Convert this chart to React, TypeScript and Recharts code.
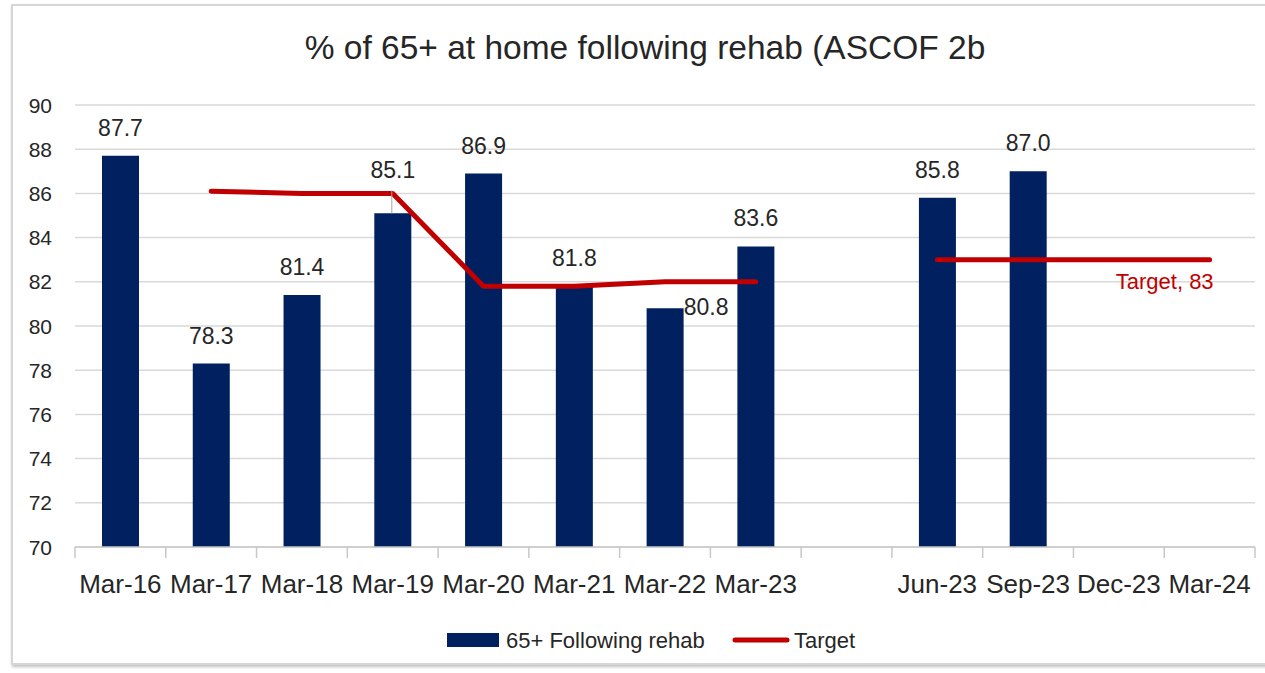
import React from "react";
import { ComposedChart, Bar, Line, XAxis, YAxis, CartesianGrid } from "recharts";

const categories = ["Mar-16", "Mar-17", "Mar-18", "Mar-19", "Mar-20", "Mar-21", "Mar-22", "Mar-23", "", "Jun-23", "Sep-23", "Dec-23", "Mar-24"];
const rehabValues: (number | null)[] = [87.7, 78.3, 81.4, 85.1, 86.9, 81.8, 80.8, 83.6, null, 85.8, 87.0, null, null];
const targetValues: (number | null)[] = [null, 86.1, 86.0, 86.0, 81.8, 81.8, 82.0, 82.0, null, 83, 83, 83, 83];
const yTicks = [70, 72, 74, 76, 78, 80, 82, 84, 86, 88, 90];
const chartTitle = "% of 65+ at home following rehab (ASCOF 2b";
const barName = "65+ Following rehab";
const lineName = "Target";

const data = categories.map((name, i) => ({ name, rehab: rehabValues[i], target: targetValues[i] }));

const BAR_COLOR = "#002060";
const LINE_COLOR = "#C00000";
const TEXT = "#262626";
const FONT = "'Liberation Sans', Arial, sans-serif";

// manual data-label nudges (like moved labels in the original)
const labelNudge: Record<string, [number, number]> = { "Mar-19": [0, -15], "Mar-22": [41, 27] };

const XTick = (props: any) => {
  const { x, y, payload, index } = props;
  const half = payload && payload.offset ? payload.offset : 45.4;
  const last = index === categories.length - 1;
  return (
    <g>
      <line x1={x - half} x2={x - half} y1={y} y2={y + 11} stroke="#c8c8c8" strokeWidth={1.5} />
      {last && <line x1={x + half} x2={x + half} y1={y} y2={y + 11} stroke="#c8c8c8" strokeWidth={1.5} />}
      <text x={x} y={y + 46} textAnchor="middle" fontSize={26} fill={TEXT} fontFamily={FONT}>
        {payload.value}
      </text>
    </g>
  );
};

const YTick = (props: any) => {
  const { x, y, payload } = props;
  return (
    <text x={x - 23} y={y} dy="0.36em" textAnchor="end" fontSize={21} fill={TEXT} fontFamily={FONT}>
      {payload.value}
    </text>
  );
};

const BarLabel = (props: any) => {
  const { x, y, width, value, index } = props;
  if (value === null || value === undefined) return null;
  const cat = categories[index];
  const [dx, dy] = labelNudge[cat] || [0, 0];
  const cx = x + width / 2;
  return (
    <g>
      {cat === "Mar-19" && <line x1={cx - 1} x2={cx - 1} y1={y} y2={y - 23} stroke="#a6a6a6" strokeWidth={1} />}
      <text x={cx + dx} y={y - 20 + dy} textAnchor="middle" fontSize={23} fill={TEXT} fontFamily={FONT}>
        {Number(value).toFixed(1)}
      </text>
    </g>
  );
};

const LineLabel = (props: any) => {
  const { x, y, value, index } = props;
  if (index !== categories.length - 1 || value === null || value === undefined) return null;
  return (
    <text x={x + 4} y={y + 29} textAnchor="end" fontSize={22} fill={LINE_COLOR} fontFamily={FONT}>
      {`${lineName}, ${value}`}
    </text>
  );
};

export default function App() {
  return (
    <div style={{ position: "absolute", left: 0, top: 0, width: 1265, height: 673, overflow: "hidden", background: "#fff", fontFamily: FONT }}>
      <div
        style={{
          position: "absolute",
          left: 11,
          top: 4,
          width: 1280,
          height: 661,
          border: "2px solid #d6d6d6",
          boxShadow: "1px 2px 3px rgba(0,0,0,0.25)",
          boxSizing: "border-box",
        }}
      />
      <div style={{ position: "absolute", left: 0, top: 0 }}>
        <ComposedChart width={1265} height={673} data={data} margin={{ top: 105, right: 10, bottom: 86, left: 0 }} barSize={37}>
          <CartesianGrid vertical={false} stroke="#d9d9d9" strokeWidth={1.5} />
          <XAxis
            dataKey="name"
            interval={0}
            tickSize={0}
            tickMargin={0}
            tickLine={false}
            height={40}
            axisLine={{ stroke: "#c8c8c8", strokeWidth: 1.5 }}
            tick={<XTick />}
          />
          <YAxis
            domain={[70, 90]}
            ticks={yTicks}
            width={75}
            tickSize={0}
            tickMargin={0}
            tickLine={false}
            axisLine={false}
            tick={<YTick />}
            allowDataOverflow
          />
          <Bar dataKey="rehab" name={barName} fill={BAR_COLOR} isAnimationActive={false} label={<BarLabel />} />
          <Line
            dataKey="target"
            name={lineName}
            stroke={LINE_COLOR}
            strokeWidth={5}
            strokeLinecap="round"
            strokeLinejoin="round"
            dot={false}
            activeDot={false}
            connectNulls={false}
            isAnimationActive={false}
            label={<LineLabel />}
          />
        </ComposedChart>
      </div>
      <svg width={1265} height={673} style={{ position: "absolute", left: 0, top: 0, pointerEvents: "none" }}>
        <text x={645} y={59} textAnchor="middle" fontSize={33.5} fill={TEXT} fontFamily={FONT}>
          {chartTitle}
        </text>
        <rect x={447} y={633} width={52} height={14} fill={BAR_COLOR} />
        <text x={506} y={648} fontSize={22} fill={TEXT} fontFamily={FONT}>
          {barName}
        </text>
        <line x1={735} x2={787} y1={640} y2={640} stroke={LINE_COLOR} strokeWidth={5} strokeLinecap="round" />
        <text x={794} y={648} fontSize={22} fill={TEXT} fontFamily={FONT}>
          {lineName}
        </text>
      </svg>
    </div>
  );
}
